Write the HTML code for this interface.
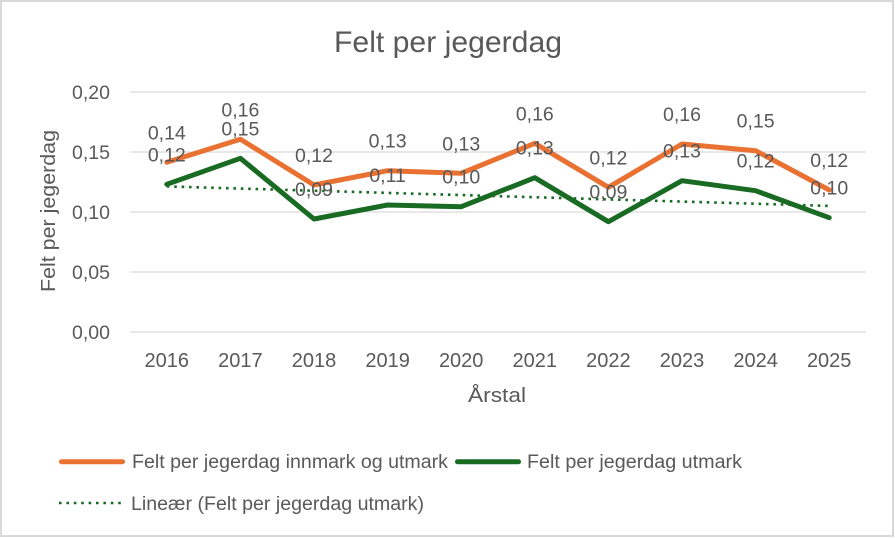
<!DOCTYPE html>
<html>
<head>
<meta charset="utf-8">
<style>
  html, body { margin: 0; padding: 0; background: #ffffff; }
  svg { display: block; }
  text { font-family: "Liberation Sans", "DejaVu Sans", sans-serif; fill: #595959; }
</style>
</head>
<body>
<svg width="895" height="538" viewBox="0 0 895 538" xmlns="http://www.w3.org/2000/svg">
  <rect x="0" y="0" width="895" height="538" fill="#ffffff"/>
  <rect x="1" y="1" width="892" height="535" fill="#ffffff" stroke="#d9d9d9" stroke-width="2"/>

  <!-- Title -->
  <text x="448" y="52" font-size="30" text-anchor="middle" textLength="228" lengthAdjust="spacingAndGlyphs">Felt per jegerdag</text>

  <!-- Gridlines -->
  <g stroke="#d9d9d9" stroke-width="1.3">
    <line x1="130" y1="92" x2="866" y2="92"/>
    <line x1="130" y1="152" x2="866" y2="152"/>
    <line x1="130" y1="212" x2="866" y2="212"/>
    <line x1="130" y1="272" x2="866" y2="272"/>
    <line x1="130" y1="332" x2="866" y2="332"/>
  </g>

  <!-- Y tick labels -->
  <g font-size="19.5" text-anchor="end">
    <text x="110" y="99">0,20</text>
    <text x="110" y="159">0,15</text>
    <text x="110" y="219">0,10</text>
    <text x="110" y="279">0,05</text>
    <text x="110" y="339">0,00</text>
  </g>

  <!-- Y axis title -->
  <text transform="translate(55,211) rotate(-90)" font-size="20" text-anchor="middle" textLength="162" lengthAdjust="spacingAndGlyphs">Felt per jegerdag</text>

  <!-- X labels -->
  <g font-size="20" text-anchor="middle">
    <text x="166.8" y="367">2016</text>
    <text x="240.4" y="367">2017</text>
    <text x="314" y="367">2018</text>
    <text x="387.6" y="367">2019</text>
    <text x="461.2" y="367">2020</text>
    <text x="534.8" y="367">2021</text>
    <text x="608.4" y="367">2022</text>
    <text x="682" y="367">2023</text>
    <text x="755.6" y="367">2024</text>
    <text x="829.2" y="367">2025</text>
  </g>

  <!-- X axis title -->
  <text x="497" y="402" font-size="20" text-anchor="middle" textLength="58" lengthAdjust="spacingAndGlyphs">Årstal</text>

  <!-- Trend line -->
  <line x1="166.8" y1="186.4" x2="829.2" y2="205.9" stroke="#196B24" stroke-width="2.6" stroke-dasharray="2.6 4.8"/>

  <!-- Orange series -->
  <polyline fill="none" stroke="#E97132" stroke-width="5" stroke-linejoin="round" stroke-linecap="round"
    points="166.8,162.3 240.4,139.3 314,185 387.6,170.7 461.2,173.3 534.8,143.3 608.4,187.3 682,144 755.6,150.7 829.2,190"/>

  <!-- Green series -->
  <polyline fill="none" stroke="#196B24" stroke-width="5" stroke-linejoin="round" stroke-linecap="round"
    points="166.8,184.3 240.4,158.3 314,219 387.6,205 461.2,206.7 534.8,177.7 608.4,221.7 682,180.7 755.6,190.7 829.2,217.7"/>

  <!-- Orange data labels -->
  <g font-size="19.5" text-anchor="middle">
    <text x="166.8" y="139.3">0,14</text>
    <text x="240.4" y="116.3">0,16</text>
    <text x="314" y="162">0,12</text>
    <text x="387.6" y="147.7">0,13</text>
    <text x="461.2" y="150.3">0,13</text>
    <text x="534.8" y="120.3">0,16</text>
    <text x="608.4" y="164.3">0,12</text>
    <text x="682" y="121">0,16</text>
    <text x="755.6" y="127.7">0,15</text>
    <text x="829.2" y="167">0,12</text>
  </g>

  <!-- Green data labels -->
  <g font-size="19.5" text-anchor="middle">
    <text x="166.8" y="161.3">0,12</text>
    <text x="240.4" y="135.3">0,15</text>
    <text x="314" y="196">0,09</text>
    <text x="387.6" y="182">0,11</text>
    <text x="461.2" y="183.7">0,10</text>
    <text x="534.8" y="154.7">0,13</text>
    <text x="608.4" y="198.7">0,09</text>
    <text x="682" y="157.7">0,13</text>
    <text x="755.6" y="167.7">0,12</text>
    <text x="829.2" y="194.7">0,10</text>
  </g>

  <!-- Legend -->
  <line x1="61.5" y1="461.7" x2="122.5" y2="461.7" stroke="#E97132" stroke-width="5" stroke-linecap="round"/>
  <text x="132" y="468" font-size="19" textLength="316" lengthAdjust="spacingAndGlyphs">Felt per jegerdag innmark og utmark</text>

  <line x1="457.5" y1="461.7" x2="518.5" y2="461.7" stroke="#196B24" stroke-width="5" stroke-linecap="round"/>
  <text x="527" y="468" font-size="19" textLength="215" lengthAdjust="spacingAndGlyphs">Felt per jegerdag utmark</text>

  <line x1="59" y1="503" x2="123" y2="503" stroke="#196B24" stroke-width="2.6" stroke-dasharray="2.6 4.8"/>
  <text x="131" y="510" font-size="19" textLength="293" lengthAdjust="spacingAndGlyphs">Lineær (Felt per jegerdag utmark)</text>
</svg>
</body>
</html>
